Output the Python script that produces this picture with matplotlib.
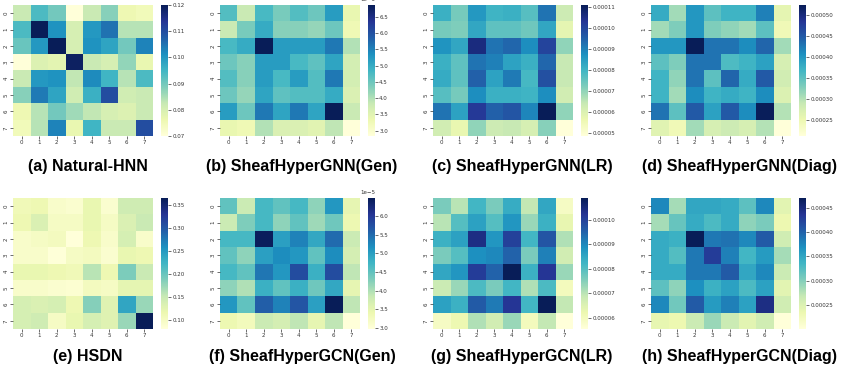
import numpy as np
import matplotlib
matplotlib.use("Agg")
import matplotlib.pyplot as plt
import seaborn as sns

# values (rows 0..7, cols 0..7)
natural_hnn = [
    [0.082, 0.094, 0.090, 0.070, 0.082, 0.088, 0.076, 0.075],
    [0.094, 0.120, 0.101, 0.080, 0.100, 0.105, 0.084, 0.084],
    [0.091, 0.100, 0.120, 0.080, 0.101, 0.098, 0.090, 0.103],
    [0.070, 0.079, 0.078, 0.119, 0.082, 0.080, 0.087, 0.077],
    [0.082, 0.100, 0.101, 0.083, 0.102, 0.095, 0.084, 0.094],
    [0.088, 0.104, 0.098, 0.081, 0.096, 0.110, 0.081, 0.082],
    [0.076, 0.084, 0.090, 0.086, 0.083, 0.080, 0.079, 0.082],
    [0.075, 0.084, 0.103, 0.077, 0.095, 0.082, 0.082, 0.110],
]
# units of 1e-5
gnn_gen = [
    [4.7, 3.8, 4.8, 4.4, 4.7, 4.5, 5.2, 3.4],
    [3.8, 4.4, 5.0, 4.3, 4.3, 4.2, 4.5, 3.3],
    [4.8, 5.0, 6.86, 5.2, 5.2, 5.2, 5.6, 4.0],
    [4.5, 4.3, 5.2, 5.2, 4.8, 4.6, 5.1, 3.7],
    [4.7, 4.3, 5.2, 4.8, 5.2, 4.7, 5.6, 3.7],
    [4.5, 4.2, 5.1, 4.6, 4.7, 4.7, 5.0, 3.6],
    [5.2, 4.5, 5.6, 5.1, 5.6, 5.1, 6.85, 3.8],
    [3.4, 3.3, 4.0, 3.6, 3.6, 3.5, 3.9, 2.84],
]
# units of 1e-5
gnn_lr = [
    [8.1, 7.3, 8.6, 8.0, 8.1, 7.7, 9.2, 6.3],
    [7.3, 7.2, 8.3, 7.6, 7.6, 7.4, 8.3, 5.8],
    [8.7, 8.3, 10.6, 9.2, 9.4, 8.8, 10.0, 7.0],
    [8.1, 7.6, 9.2, 9.0, 8.4, 8.1, 9.4, 6.4],
    [8.2, 7.6, 9.5, 8.4, 9.1, 7.9, 9.8, 6.4],
    [7.7, 7.3, 8.8, 8.1, 8.1, 8.0, 8.8, 6.2],
    [9.2, 8.4, 10.2, 9.5, 9.7, 8.9, 11.1, 7.0],
    [6.2, 5.7, 7.0, 6.3, 6.4, 6.1, 7.1, 4.84],
]
# units of 1e-4
gnn_diag = [
    [3.8, 3.1, 4.0, 3.5, 3.7, 3.7, 4.2, 2.6],
    [3.1, 3.3, 4.0, 3.3, 3.2, 3.1, 3.5, 2.45],
    [4.0, 4.0, 5.24, 4.3, 4.3, 4.1, 4.4, 3.1],
    [3.5, 3.3, 4.3, 4.3, 3.6, 3.7, 3.9, 2.75],
    [3.7, 3.2, 4.3, 3.5, 4.4, 3.8, 4.5, 2.8],
    [3.7, 3.1, 4.1, 3.7, 3.8, 3.7, 4.1, 2.7],
    [4.3, 3.5, 4.5, 3.9, 4.5, 4.1, 5.22, 3.0],
    [2.65, 2.45, 3.1, 2.75, 2.85, 2.75, 3.0, 2.12],
]
hsdn = [
    [0.110, 0.115, 0.095, 0.090, 0.120, 0.090, 0.145, 0.145],
    [0.115, 0.135, 0.100, 0.100, 0.120, 0.100, 0.135, 0.150],
    [0.095, 0.100, 0.105, 0.081, 0.115, 0.095, 0.140, 0.095],
    [0.095, 0.095, 0.083, 0.100, 0.105, 0.090, 0.120, 0.115],
    [0.120, 0.120, 0.115, 0.110, 0.160, 0.115, 0.190, 0.150],
    [0.095, 0.095, 0.090, 0.088, 0.105, 0.100, 0.125, 0.125],
    [0.140, 0.135, 0.140, 0.115, 0.185, 0.130, 0.240, 0.175],
    [0.140, 0.145, 0.100, 0.120, 0.140, 0.130, 0.175, 0.366],
]
# units of 1e-5
gcn_gen = [
    [4.5, 3.8, 4.7, 4.5, 4.7, 4.2, 5.1, 3.5],
    [3.8, 4.3, 4.7, 4.2, 4.5, 4.1, 4.4, 3.4],
    [4.7, 4.7, 6.45, 5.0, 5.3, 4.9, 5.5, 3.8],
    [4.5, 4.2, 5.0, 5.2, 5.1, 4.5, 5.2, 3.7],
    [4.7, 4.5, 5.4, 5.1, 5.8, 4.8, 5.8, 3.9],
    [4.2, 4.0, 4.8, 4.5, 4.8, 4.4, 4.9, 3.5],
    [5.1, 4.5, 5.6, 5.3, 5.7, 5.0, 6.49, 3.9],
    [3.4, 3.3, 3.8, 3.7, 3.9, 3.5, 3.9, 2.97],
]
# units of 1e-5
gcn_lr = [
    [7.6, 7.0, 8.2, 7.6, 8.4, 6.9, 8.5, 5.9],
    [7.0, 8.0, 8.6, 8.0, 8.8, 7.3, 8.3, 6.3],
    [8.3, 8.6, 10.4, 8.8, 10.0, 8.2, 9.7, 7.1],
    [7.6, 8.0, 8.9, 9.0, 9.5, 7.6, 9.1, 6.7],
    [8.5, 8.8, 10.1, 9.5, 10.9, 8.3, 10.2, 7.3],
    [6.8, 7.3, 8.1, 7.6, 8.2, 7.1, 8.1, 6.0],
    [8.6, 8.3, 9.6, 9.2, 10.2, 8.2, 10.9, 6.9],
    [5.9, 6.2, 7.1, 6.7, 7.3, 6.0, 6.9, 5.53],
]
# units of 1e-4
gcn_diag = [
    [3.75, 2.85, 3.5, 3.5, 3.45, 3.2, 3.75, 2.45],
    [2.85, 3.15, 3.45, 3.3, 3.45, 2.95, 3.05, 2.35],
    [3.45, 3.4, 4.7, 3.85, 3.9, 3.75, 4.05, 2.6],
    [3.45, 3.25, 3.85, 4.3, 3.8, 3.35, 3.6, 2.85],
    [3.45, 3.45, 3.85, 3.85, 4.05, 3.5, 3.75, 2.65],
    [3.2, 2.95, 3.7, 3.4, 3.55, 3.3, 3.55, 2.45],
    [3.75, 3.1, 4.05, 3.6, 3.8, 3.55, 4.45, 2.6],
    [2.4, 2.35, 2.65, 2.9, 2.65, 2.45, 2.6, 2.01],
]

titles = ["(a) Natural-HNN", "(b) SheafHyperGNN(Gen)", "(c) SheafHyperGNN(LR)",
          "(d) SheafHyperGNN(Diag)", "(e) HSDN", "(f) SheafHyperGCN(Gen)",
          "(g) SheafHyperGCN(LR)", "(h) SheafHyperGCN(Diag)"]
mats = [natural_hnn, gnn_gen, gnn_lr, gnn_diag, hsdn, gcn_gen, gcn_lr, gcn_diag]
scales = [1, 1e-5, 1e-5, 1e-4, 1, 1e-5, 1e-5, 1e-4]
cbar_ticks = [
    [0.07, 0.08, 0.09, 0.10, 0.11, 0.12],
    [3.0e-5, 3.5e-5, 4.0e-5, 4.5e-5, 5.0e-5, 5.5e-5, 6.0e-5, 6.5e-5],
    [5e-5, 6e-5, 7e-5, 8e-5, 9e-5, 10e-5, 11e-5],
    [2.5e-4, 3.0e-4, 3.5e-4, 4.0e-4, 4.5e-4, 5.0e-4],
    [0.10, 0.15, 0.20, 0.25, 0.30, 0.35],
    [3.0e-5, 3.5e-5, 4.0e-5, 4.5e-5, 5.0e-5, 5.5e-5, 6.0e-5],
    [6e-5, 7e-5, 8e-5, 9e-5, 10e-5],
    [2.5e-4, 3.0e-4, 3.5e-4, 4.0e-4, 4.5e-4],
]

W, H = 842, 368
fig = plt.figure(figsize=(W / 100, H / 100), dpi=100)

# pixel layout: heatmap left edges, colorbar left edges, title centres
hm_left = [13, 220, 433, 651]
cb_left = [161, 368, 581, 799]
title_x = [88, 302, 522, 740]
row_top = [5, 198]
title_y = [167, 357]
hm_w, hm_h, cb_w = 140, 131, 7

for i, (m, sc) in enumerate(zip(mats, scales)):
    r, c = divmod(i, 4)
    ax = fig.add_axes([hm_left[c] / W, 1 - (row_top[r] + hm_h) / H, hm_w / W, hm_h / H])
    cax = fig.add_axes([cb_left[c] / W, 1 - (row_top[r] + hm_h) / H, cb_w / W, hm_h / H])
    data = np.array(m) * sc
    sns.heatmap(data, ax=ax, cbar_ax=cax, cmap="YlGnBu",
                cbar_kws={"ticks": cbar_ticks[i]})
    ax.tick_params(labelsize=4, length=2, width=0.5, pad=1, colors="#333333")
    cax.tick_params(labelsize=4, length=2, width=0.5, pad=1, colors="#333333")
    cax.yaxis.get_offset_text().set_fontsize(4)
    fig.text(title_x[c] / W, 1 - title_y[r] / H, titles[i], ha="center", va="center",
             fontsize=11.5, fontweight="bold", family="Liberation Sans")

fig.savefig("out.png", dpi=100)
